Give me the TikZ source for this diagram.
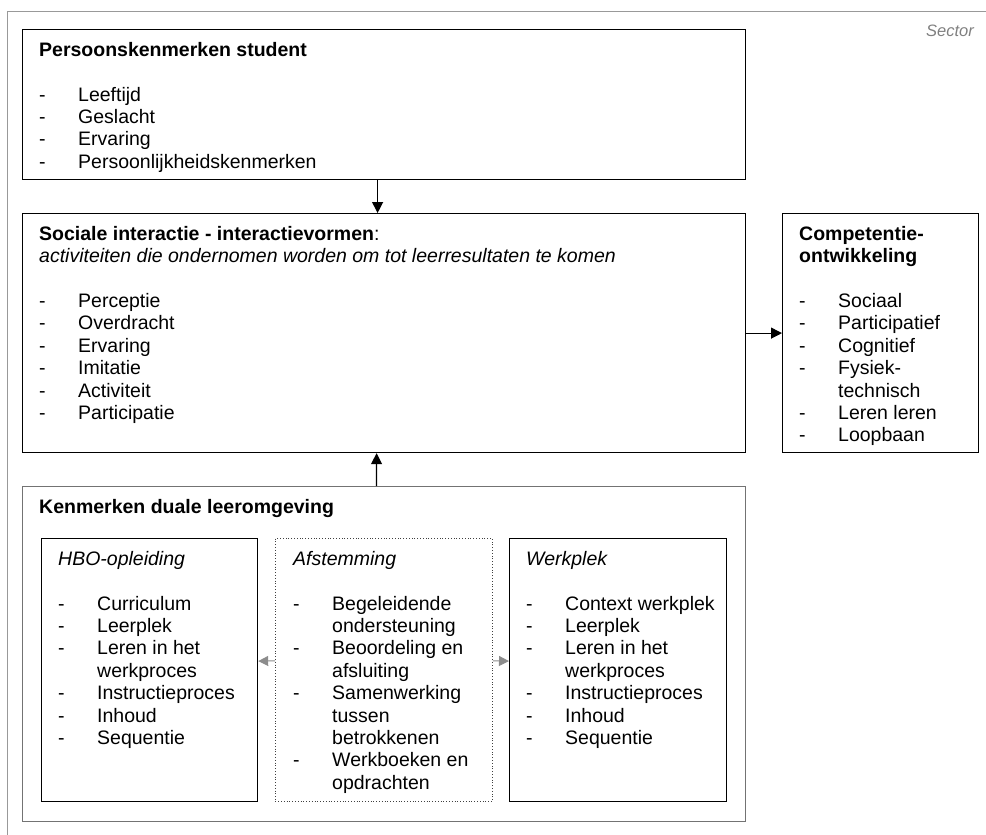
\documentclass[tikz,border=0pt]{standalone}
\usepackage{fontspec}
\setmainfont{Liberation Sans}
\usetikzlibrary{arrows.meta}
\tikzstyle{box}=[draw=black, line width=1.2pt, anchor=north west, inner sep=0pt]
\tikzstyle{grey_box}=[draw=black!55, line width=1pt, anchor=north west, inner sep=0pt]
\tikzstyle{dotted_box}=[draw=black!75, line width=0.8pt, dotted, anchor=north west, inner sep=0pt]
\tikzstyle{txt}=[anchor=north west, inner sep=0pt, align=left, font=\fontsize{19.5}{22.4}\selectfont]
\tikzstyle{arrow}=[-{Triangle[length=11pt,width=11pt]}, line width=1.2pt]
\tikzstyle{grey_arrow}=[-{Triangle[length=10pt,width=10pt]}, line width=1pt, color=black!45]
\newcommand{\itm}[1]{\makebox[39pt][l]{-}#1}
\newcommand{\itmc}[1]{\hspace*{39pt}#1}

\begin{document}
\begin{tikzpicture}[x=1pt, y=-1pt]
    \useasboundingbox (0,0) rectangle (986,835);
    \draw [black!40, line width=1pt] (7,835) -- (7,11) -- (986,11);
    \node (sector) at (974,36) [anchor=base east, inner sep=0pt, text=black!50, font=\fontsize{16.5}{20}\selectfont\itshape] {Sector};

    % boxes
    \node (P) at (22,29)   [box, minimum width=723pt, minimum height=150pt] {};
    \node (S) at (22,213)  [box, minimum width=723pt, minimum height=239pt] {};
    \node (C) at (782,213) [box, minimum width=196pt, minimum height=239pt] {};
    \node (K) at (22,486)  [grey_box, minimum width=723pt, minimum height=335pt] {};
    \node (H) at (41,538)  [box, minimum width=216pt, minimum height=263pt] {};
    \node (A) at (275,538) [dotted_box, minimum width=217pt, minimum height=263pt] {};
    \node (W) at (509,538) [box, minimum width=217pt, minimum height=263pt] {};

    % texts
    \node (Pt) at (39,42) [txt] {\textbf{Persoonskenmerken student}\\[22.4pt]
        \itm{Leeftijd}\\ \itm{Geslacht}\\ \itm{Ervaring}\\ \itm{Persoonlijkheidskenmerken}};
    \node (St) at (39,226) [txt] {\textbf{Sociale interactie - interactievormen}:\\
        \textit{activiteiten die ondernomen worden om tot leerresultaten te komen}\\[22.4pt]
        \itm{Perceptie}\\ \itm{Overdracht}\\ \itm{Ervaring}\\ \itm{Imitatie}\\ \itm{Activiteit}\\ \itm{Participatie}};
    \node (Ct) at (799,226) [txt] {\textbf{Competentie-}\\ \textbf{ontwikkeling}\\[22.4pt]
        \itm{Sociaal}\\ \itm{Participatief}\\ \itm{Cognitief}\\ \itm{Fysiek-}\\ \itmc{technisch}\\ \itm{Leren leren}\\ \itm{Loopbaan}};
    \node (Kt) at (39,499) [txt] {\textbf{Kenmerken duale leeromgeving}};
    \node (Ht) at (58,551) [txt] {\textit{HBO-opleiding}\\[22.4pt]
        \itm{Curriculum}\\ \itm{Leerplek}\\ \itm{Leren in het}\\ \itmc{werkproces}\\ \itm{Instructieproces}\\ \itm{Inhoud}\\ \itm{Sequentie}};
    \node (At) at (293,551) [txt] {\textit{Afstemming}\\[22.4pt]
        \itm{Begeleidende}\\ \itmc{ondersteuning}\\ \itm{Beoordeling en}\\ \itmc{afsluiting}\\ \itm{Samenwerking}\\ \itmc{tussen}\\ \itmc{betrokkenen}\\ \itm{Werkboeken en}\\ \itmc{opdrachten}};
    \node (Wt) at (526,551) [txt] {\textit{Werkplek}\\[22.4pt]
        \itm{Context werkplek}\\ \itm{Leerplek}\\ \itm{Leren in het}\\ \itmc{werkproces}\\ \itm{Instructieproces}\\ \itm{Inhoud}\\ \itm{Sequentie}};

    % arrows
    \draw ([xshift=-6.5pt]P.south) -- ([xshift=-6.5pt]S.north) [arrow];
    \draw (S.east) -- (C.west) [arrow];
    \draw ([xshift=-7.5pt]K.north) -- ([xshift=-7.5pt]S.south) [arrow];
    \draw ([yshift=9pt]A.west) -- ([yshift=9pt]H.east) [grey_arrow];
    \draw ([yshift=9pt]A.east) -- ([yshift=9pt]W.west) [grey_arrow];
\end{tikzpicture}
\end{document}
